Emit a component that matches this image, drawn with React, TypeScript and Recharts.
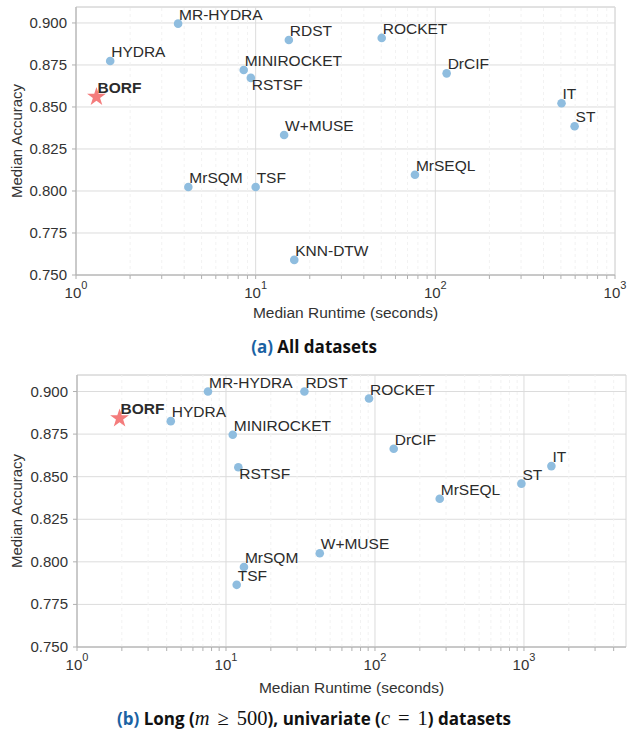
import {
  ScatterChart,
  Scatter,
  XAxis,
  YAxis,
  CartesianGrid,
  ReferenceLine,
  ReferenceArea,
  Symbols,
} from "recharts";

// (a) all datasets
const algosA = ["HYDRA", "MR-HYDRA", "RDST", "ROCKET", "MINIROCKET", "RSTSF", "DrCIF", "IT", "ST", "W+MUSE", "MrSQM", "TSF", "MrSEQL", "KNN-DTW"];
const runtimeA = [1.55, 3.7, 15.3, 50.3, 8.58, 9.4, 115.6, 504, 596, 14.4, 4.22, 10.0, 77, 16.4];
const accuracyA = [0.8774, 0.8996, 0.8899, 0.8911, 0.872, 0.8673, 0.87, 0.8522, 0.8385, 0.8333, 0.8024, 0.8024, 0.8097, 0.759];
const borfA = { name: "BORF", runtime: 1.3, acc: 0.856 };

// (b) long univariate datasets
const algosB = ["HYDRA", "MR-HYDRA", "RDST", "ROCKET", "MINIROCKET", "RSTSF", "DrCIF", "IT", "ST", "W+MUSE", "MrSQM", "TSF", "MrSEQL"];
const runtimeB = [4.26, 7.57, 33.6, 91.2, 11.1, 12.1, 133.6, 1528, 961, 42.6, 13.2, 11.8, 272];
const accuracyB = [0.8826, 0.9, 0.9, 0.8959, 0.8746, 0.8555, 0.8664, 0.8562, 0.8459, 0.805, 0.797, 0.7865, 0.837];
const borfB = { name: "BORF", runtime: 1.93, acc: 0.8842 };

const yTicks = [0.75, 0.775, 0.8, 0.825, 0.85, 0.875, 0.9];
const labelsBelow = ["RSTSF"];

const BLUE = "#8fbddf";
const RED = "#f47c7c";
const TEXT = "#2b2b2b";
const FONT = '"Liberation Sans", Arial, sans-serif';

function logTicks(max: number) {
  const major: number[] = [];
  const minor: number[] = [];
  for (let p = 1; p <= max; p *= 10) {
    major.push(p);
    for (let k = 2; k <= 9; k++) if (p * k <= max) minor.push(p * k);
  }
  return { major, minor };
}

function PointShape(props: any) {
  const { cx, cy, payload } = props;
  const below = labelsBelow.includes(payload.name);
  return (
    <g>
      <circle cx={cx} cy={cy} r={4.3} fill={BLUE} />
      <text x={cx + 1} y={below ? cy + 12 : cy - 4} fontSize={15.5} fill={TEXT} fontFamily={FONT}>
        {payload.name}
      </text>
    </g>
  );
}

function StarShape(props: any) {
  const { cx, cy, payload } = props;
  return (
    <g>
      <Symbols cx={cx} cy={cy} type="star" size={110} fill={RED} />
      <text x={cx + 1} y={cy - 4} fontSize={15.5} fontWeight="bold" fill={TEXT} fontFamily={FONT}>
        {payload.name}
      </text>
    </g>
  );
}

function PowTick(props: any) {
  const { x, y, payload } = props;
  const exp = Math.round(Math.log10(payload.value));
  if (Math.abs(Math.pow(10, exp) - payload.value) > 1e-6) return null;
  return (
    <text x={x} y={y} dy={15} textAnchor="middle" fill="#333" fontSize={15} fontFamily={FONT}>
      <tspan>10</tspan>
      <tspan dy={-9} fontSize={11}>{exp}</tspan>
    </text>
  );
}

function AccTick(props: any) {
  const { x, y, payload } = props;
  return (
    <text x={x} y={y} dy={5} textAnchor="end" fill="#333" fontSize={15} fontFamily={FONT}>
      {payload.value.toFixed(3)}
    </text>
  );
}

function XTitle(props: any) {
  const { x, y, width, height } = props.viewBox;
  return (
    <text x={x + width / 2} y={y + height - 7} textAnchor="middle" fill="#333" fontSize={15.5} fontFamily={FONT}>
      Median Runtime (seconds)
    </text>
  );
}

function YTitle(props: any) {
  const { y, height } = props.viewBox;
  const cy = y + height / 2;
  return (
    <text x={22} y={cy} transform={`rotate(-90 22 ${cy})`} textAnchor="middle" fill="#333" fontSize={15} fontFamily={FONT}>
      Median Accuracy
    </text>
  );
}

function Panel({ names, runtime, acc, borf, xMax, yMax, height, margin, yWidth, xHeight }: any) {
  const data = names.map((name: string, i: number) => ({ name, runtime: runtime[i], acc: acc[i] }));
  const { major, minor } = logTicks(xMax);
  return (
    <ScatterChart width={628} height={height} margin={margin} style={{ fontFamily: FONT }}>
      <CartesianGrid vertical={false} stroke="#dcdcdc" />
      {minor.map((v) => (
        <ReferenceLine key={"m" + v} x={v} stroke="#f2f2f2" strokeDasharray="3 3" />
      ))}
      {major.map((v) => (
        <ReferenceLine key={"M" + v} x={v} stroke="#dcdcdc" />
      ))}
      <ReferenceArea x1={1} x2={xMax} y1={0.75} y2={yMax} fill="none" stroke="#d6d6d6" ifOverflow="extendDomain" />
      <XAxis
        type="number"
        dataKey="runtime"
        scale="log"
        domain={[1, xMax]}
        allowDataOverflow
        ticks={[...major, ...minor].sort((a, b) => a - b)}
        tick={<PowTick />}
        tickSize={4}
        tickMargin={4}
        height={xHeight}
        stroke="#b0b0b0"
        interval={0}
        label={<XTitle />}
      />
      <YAxis
        type="number"
        dataKey="acc"
        domain={[0.75, yMax]}
        allowDataOverflow
        ticks={yTicks}
        tick={<AccTick />}
        tickSize={4}
        tickMargin={5}
        width={yWidth}
        stroke="#b0b0b0"
        interval={0}
        label={<YTitle />}
      />
      <Scatter data={data} shape={<PointShape />} isAnimationActive={false} />
      <Scatter data={[borf]} shape={<StarShape />} isAnimationActive={false} />
    </ScatterChart>
  );
}

const capStyle: any = {
  position: "absolute",
  left: 0,
  width: 628,
  textAlign: "center",
  fontFamily: '"Open Sans", sans-serif',
  fontWeight: 700,
  fontSize: 17,
  lineHeight: "22px",
  color: "#111",
};
const math: any = { fontFamily: '"Liberation Serif", serif', fontWeight: 400, fontSize: 20.5 };
const op: any = { ...math, margin: "0 8px" };

export default function App() {
  return (
    <div style={{ position: "absolute", left: 0, top: 0, width: 628, height: 736, background: "#fff", fontFamily: FONT }}>
      <div style={{ position: "absolute", left: 0, top: 0 }}>
        <Panel
          names={algosA}
          runtime={runtimeA}
          acc={accuracyA}
          borf={borfA}
          xMax={1000}
          yMax={0.9095}
          height={325}
          margin={{ top: 7, right: 13, bottom: 0, left: 0 }}
          yWidth={76}
          xHeight={50}
        />
      </div>
      <div style={{ ...capStyle, top: 336 }}>
        <span style={{ color: "#1a62a3" }}>(a)</span> All datasets
      </div>
      <div style={{ position: "absolute", left: 0, top: 367 }}>
        <Panel
          names={algosB}
          runtime={runtimeB}
          acc={accuracyB}
          borf={borfB}
          xMax={4840}
          yMax={0.9097}
          height={333}
          margin={{ top: 8, right: 2, bottom: 0, left: 0 }}
          yWidth={77}
          xHeight={53}
        />
      </div>
      <div style={{ ...capStyle, top: 707 }}>
        <span style={{ color: "#1a62a3" }}>(b)</span> Long (<span style={{ ...math, fontStyle: "italic" }}>m</span>
        <span style={op}>≥</span><span style={math}>500</span>), univariate (<span style={{ ...math, fontStyle: "italic" }}>c</span>
        <span style={op}>=</span><span style={math}>1</span>) datasets
      </div>
    </div>
  );
}
